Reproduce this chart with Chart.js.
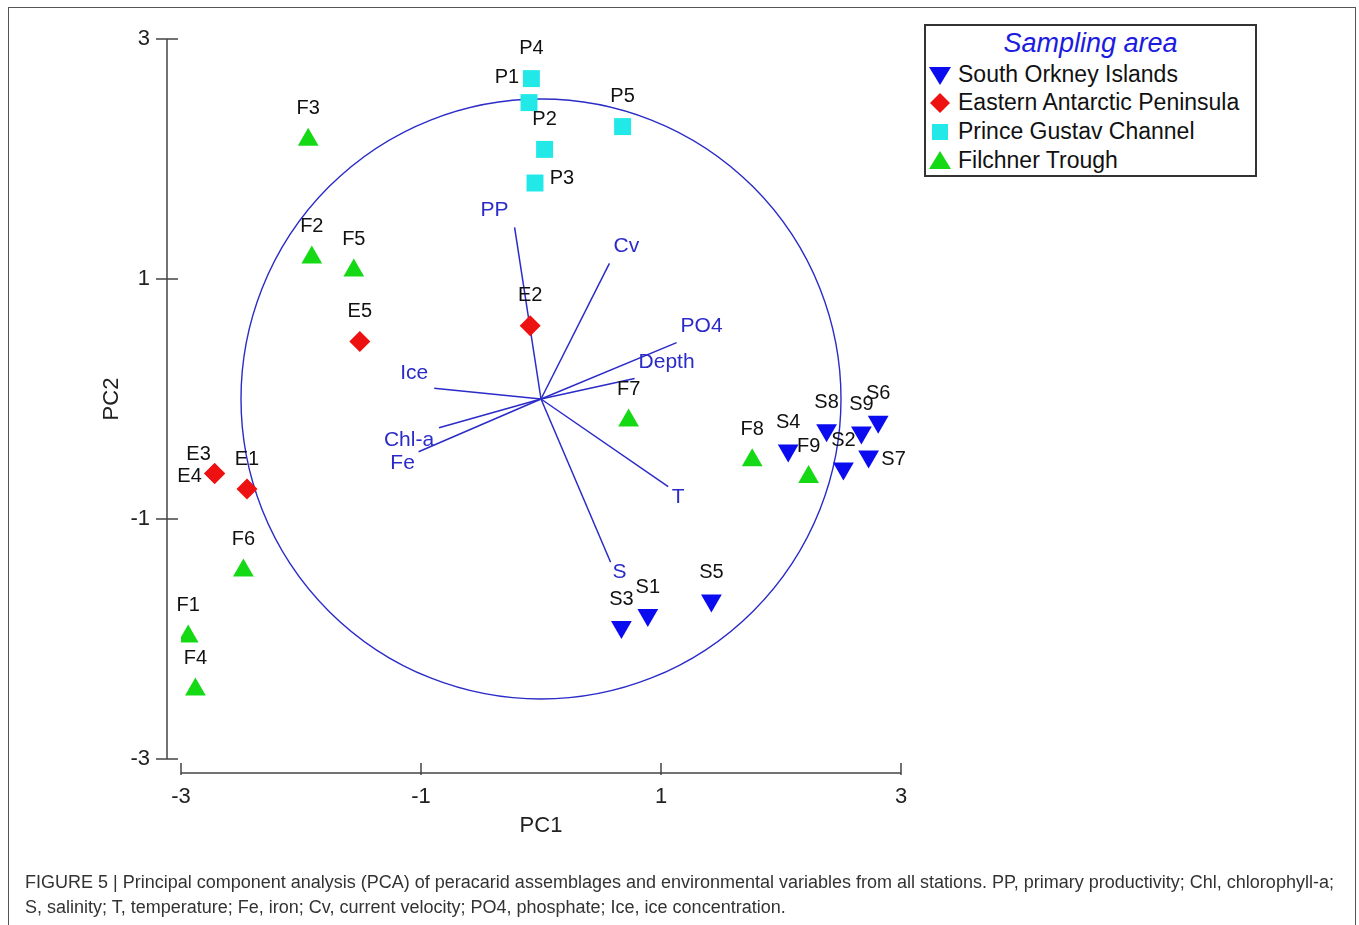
<!DOCTYPE html>
<html>
<head>
<meta charset="utf-8">
<title>PCA peracarid assemblages</title>
<script src="https://cdn.jsdelivr.net/npm/chart.js@4.4.1/dist/chart.umd.min.js"></script>
<style>
  html, body { margin: 0; padding: 0; background: #fff; overflow: hidden; }
  #wrap { position: relative; width: 1359px; height: 925px; font-family: 'Liberation Sans', Arial, sans-serif; }
  #frame { position: absolute; left: 8px; top: 7px; width: 1348px; height: 940px; border: 1.5px solid #555; box-sizing: border-box; }
  #pca { position: absolute; left: 0; top: 0; }
  #legend { position: absolute; left: 924px; top: 24px; width: 333px; height: 153px; border: 2px solid #333; box-sizing: border-box; background: #fff; }
  #legend .ltitle { position: absolute; left: 0; right: 0; top: 1px; text-align: center; font-style: italic; font-size: 27px; line-height: 32px; color: #1c1ce0; }
  #legend .lrow { position: absolute; left: 0; height: 28px; line-height: 28px; font-size: 23px; color: #111; white-space: nowrap; }
  #legend .lrow svg { position: absolute; left: 2px; top: 3px; }
  #legend .lrow span { position: absolute; left: 32px; top: 0; }
  #caption { position: absolute; left: 25px; top: 870px; font-size: 18px; line-height: 25px; color: #333; white-space: nowrap; }
</style>
</head>
<body>
<div id="wrap">
  <div id="frame"></div>
  <canvas id="pca" width="1359" height="925"></canvas>
  <div id="legend"><div class="ltitle">Sampling area</div></div>
  <div id="caption">FIGURE 5 | Principal component analysis (PCA) of peracarid assemblages and environmental variables from all stations. PP, primary productivity; Chl, chlorophyll-a;<br>S, salinity; T, temperature; Fe, iron; Cv, current velocity; PO4, phosphate; Ice, ice concentration.</div>
</div>
<script>
// --- dados ---
const seriesNames = ['South Orkney Islands', 'Eastern Antarctic Peninsula', 'Prince Gustav Channel', 'Filchner Trough'];

const southOrkneyStations = ['S1', 'S2', 'S3', 'S4', 'S5', 'S6', 'S7', 'S8', 'S9'];
const southOrkneyPC1 = [0.89, 2.52, 0.67, 2.06, 1.42, 2.81, 2.73, 2.38, 2.67];
const southOrkneyPC2 = [-1.80, -0.58, -1.90, -0.43, -1.68, -0.19, -0.48, -0.26, -0.28];

const easternStations = ['E1', 'E2', 'E3', 'E4', 'E5'];
const easternPC1 = [-2.45, -0.09, -2.72, -2.72, -1.51];
const easternPC2 = [-0.75, 0.61, -0.62, -0.62, 0.48];

const princeStations = ['P1', 'P2', 'P3', 'P4', 'P5'];
const princePC1 = [-0.10, 0.03, -0.05, -0.08, 0.68];
const princePC2 = [2.47, 2.08, 1.80, 2.67, 2.27];

const filchnerStations = ['F1', 'F2', 'F3', 'F4', 'F5', 'F6', 'F7', 'F8', 'F9'];
const filchnerPC1 = [-2.94, -1.91, -1.94, -2.88, -1.56, -2.48, 0.73, 1.76, 2.23];
const filchnerPC2 = [-1.98, 1.18, 2.16, -2.42, 1.07, -1.43, -0.18, -0.51, -0.65];

// variáveis ambientais (extremidade dos vetores)
const variableNames = ['PP', 'Cv', 'PO4', 'Depth', 'T', 'S', 'Ice', 'Chl-a', 'Fe'];
const variablePC1 = [-0.22, 0.57, 1.13, 0.78, 1.06, 0.58, -0.89, -0.85, -1.02];
const variablePC2 = [1.43, 1.13, 0.47, 0.17, -0.73, -1.36, 0.09, -0.24, -0.44];

const xTickValues = [-3, -1, 1, 3];
const yTickValues = [-3, -1, 1, 3];
const circleRadius = 2.5;

// --- estilos ---
const FONT = "'Liberation Sans', Arial, sans-serif";
const vectorColor = '#2b2bc8';
const seriesColors = ['#0b0bf0', '#ee1111', '#22e8e8', '#16d916'];
const seriesShapes = ['triangle', 'rectRot', 'rect', 'triangle'];
const seriesRotation = [180, 0, 0, 0];
const seriesRadius = [12, 10.5, 12, 12];
const labelBaseShift = [-28, -30, -30, -31];

// rótulos fora da posição padrão (px)
const labelShift = {
  S7: [25, 3],
  E3: [-16, -19],
  E4: [-25, 3],
  P1: [-22, -25],
  P3: [27, -5]
};
const vectorLabelShift = {
  PP: [-20, -17], Cv: [17, -17], PO4: [25, -16], Depth: [32, -16],
  T: [10, 11], S: [9, 10], Ice: [-20, -15], 'Chl-a': [-30, 12], Fe: [-16, 11]
};

function toPoints(xs, ys) {
  return xs.map((v, i) => ({ x: v, y: ys[i] }));
}

const stationSets = [
  { names: southOrkneyStations, pts: toPoints(southOrkneyPC1, southOrkneyPC2) },
  { names: easternStations, pts: toPoints(easternPC1, easternPC2) },
  { names: princeStations, pts: toPoints(princePC1, princePC2) },
  { names: filchnerStations, pts: toPoints(filchnerPC1, filchnerPC2) }
];

const datasets = [];
stationSets.forEach((s, i) => {
  datasets.push({
    label: seriesNames[i],
    stations: s.names,
    data: s.pts,
    pointStyle: seriesShapes[i],
    rotation: seriesRotation[i],
    pointRadius: seriesRadius[i],
    pointBackgroundColor: seriesColors[i],
    pointBorderColor: seriesColors[i],
    pointBorderWidth: 0,
    showLine: false,
    order: 0
  });
});
variableNames.forEach((name, i) => {
  datasets.push({
    label: name,
    isVector: true,
    data: [{ x: 0, y: 0 }, { x: variablePC1[i], y: variablePC2[i] }],
    showLine: true,
    borderColor: vectorColor,
    borderWidth: 1.5,
    pointRadius: 0,
    order: 1
  });
});

// eixos deslocados, círculo de correlação e rótulos
const axisGap = 14;
const pcaDecor = {
  id: 'pcaDecor',
  beforeDatasetsDraw(chart) {
    const { ctx, chartArea, scales: { x, y } } = chart;
    ctx.save();
    const cx = x.getPixelForValue(0);
    const cy = y.getPixelForValue(0);
    const r = x.getPixelForValue(circleRadius) - cx;
    ctx.strokeStyle = vectorColor;
    ctx.lineWidth = 1.4;
    ctx.beginPath();
    ctx.arc(cx, cy, r, 0, Math.PI * 2);
    ctx.stroke();

    ctx.strokeStyle = '#444';
    ctx.lineWidth = 1.5;
    const ax = chartArea.left - axisGap;
    const ay = chartArea.bottom + axisGap;
    ctx.beginPath();
    ctx.moveTo(ax, y.getPixelForValue(y.max));
    ctx.lineTo(ax, y.getPixelForValue(y.min));
    y.ticks.forEach(t => {
      const py = y.getPixelForValue(t.value);
      ctx.moveTo(ax - 11, py);
      ctx.lineTo(ax + 11, py);
    });
    ctx.moveTo(x.getPixelForValue(x.min), ay);
    ctx.lineTo(x.getPixelForValue(x.max), ay);
    x.ticks.forEach(t => {
      const px = x.getPixelForValue(t.value);
      ctx.moveTo(px, ay - 10);
      ctx.lineTo(px, ay + 2);
    });
    ctx.stroke();
    ctx.restore();
  },
  afterDatasetsDraw(chart) {
    const ctx = chart.ctx;
    ctx.save();
    ctx.textAlign = 'center';
    ctx.textBaseline = 'middle';
    chart.data.datasets.forEach((ds, i) => {
      const meta = chart.getDatasetMeta(i);
      if (ds.isVector) {
        const end = meta.data[1];
        const sh = vectorLabelShift[ds.label] || [0, -15];
        ctx.font = '21px ' + FONT;
        ctx.fillStyle = vectorColor;
        ctx.fillText(ds.label, end.x + sh[0], end.y + sh[1]);
      } else {
        ctx.font = '20px ' + FONT;
        ctx.fillStyle = '#111';
        ds.stations.forEach((name, j) => {
          const el = meta.data[j];
          const sh = labelShift[name] || [0, labelBaseShift[i]];
          ctx.fillText(name, el.x + sh[0], el.y + sh[1]);
        });
      }
    });
    ctx.restore();
  }
};

const chart = new Chart(document.getElementById('pca'), {
  type: 'scatter',
  data: { datasets: datasets },
  options: {
    responsive: false,
    animation: false,
    events: [],
    layout: { padding: { left: 0, right: 458, top: 39, bottom: 0 } },
    plugins: { legend: { display: false }, tooltip: { enabled: false } },
    scales: {
      x: {
        type: 'linear', min: -3, max: 3,
        afterBuildTicks: s => { s.ticks = xTickValues.map(v => ({ value: v })); },
        afterFit: s => { s.height = 166; s.paddingLeft = 0; s.paddingRight = 0; },
        grid: { display: false, drawTicks: false },
        border: { display: false },
        ticks: { padding: 25, color: '#222', font: { family: FONT, size: 22 } },
        title: { display: true, text: 'PC1', color: '#222', font: { family: FONT, size: 22 }, padding: { bottom: 86 } }
      },
      y: {
        type: 'linear', min: -3, max: 3,
        afterBuildTicks: s => { s.ticks = yTickValues.map(v => ({ value: v })); },
        afterFit: s => { s.width = 181; s.paddingTop = 0; s.paddingBottom = 0; },
        grid: { display: false, drawTicks: false },
        border: { display: false },
        ticks: { padding: 31, color: '#222', font: { family: FONT, size: 22 } },
        title: { display: true, text: 'PC2', color: '#222', font: { family: FONT, size: 22 }, padding: { top: 99 } }
      }
    }
  },
  plugins: [pcaDecor]
});

// legenda em HTML montada a partir das séries
function markerSvg(i) {
  const c = seriesColors[i];
  let shape;
  if (i === 0) shape = `<polygon points="1,4 23,4 12,22" fill="${c}"/>`;
  else if (i === 1) shape = `<polygon points="12,2 22,12 12,22 2,12" fill="${c}"/>`;
  else if (i === 2) shape = `<rect x="4" y="4" width="16" height="16" fill="${c}"/>`;
  else shape = `<polygon points="1,20 23,20 12,2" fill="${c}"/>`;
  return `<svg width="24" height="24" viewBox="0 0 24 24">${shape}</svg>`;
}
const legendRowTops = [34, 62, 91, 120];
const legendBox = document.getElementById('legend');
seriesNames.forEach((name, i) => {
  const row = document.createElement('div');
  row.className = 'lrow';
  row.style.top = legendRowTops[i] + 'px';
  row.innerHTML = markerSvg(i) + `<span>${name}</span>`;
  legendBox.appendChild(row);
});
</script>
</body>
</html>
